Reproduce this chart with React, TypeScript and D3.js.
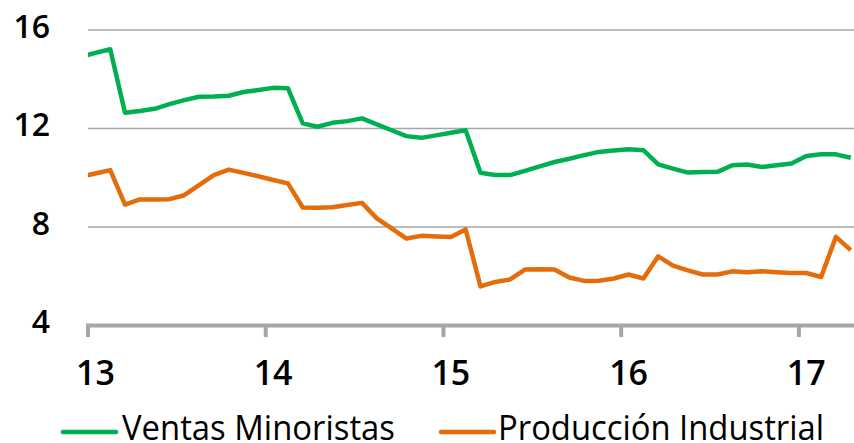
import React from 'react';
import { scaleLinear, line } from 'd3';

// monthly values, Dec 2012 .. Apr 2017 (month index -1 .. 51, 0 = Jan 2013)
const monthIndex = Array.from({ length: 53 }, (_, i) => i - 1);

const ventasMinoristas = [
  14.91, 15.07, 15.22, 12.64, 12.71, 12.8, 12.99, 13.15, 13.29, 13.3, 13.33, 13.48, 13.56,
  13.65, 13.63, 12.21, 12.07, 12.23, 12.3, 12.41, 12.17, 11.93, 11.69, 11.62, 11.72, 11.83,
  11.93, 10.2, 10.11, 10.11, 10.28, 10.46, 10.64, 10.77, 10.92, 11.05, 11.11, 11.16,
  11.12, 10.54, 10.37, 10.21, 10.23, 10.24, 10.51, 10.54, 10.44, 10.51, 10.58, 10.88,
  10.95, 10.95, 10.81,
];

const produccionIndustrial = [
  10.04, 10.17, 10.31, 8.91, 9.12, 9.12, 9.13, 9.29, 9.7, 10.11, 10.33, 10.2, 10.06,
  9.91, 9.77, 8.79, 8.78, 8.8, 8.89, 8.98, 8.35, 7.94, 7.53, 7.64, 7.61, 7.59,
  7.9, 5.59, 5.77, 5.87, 6.27, 6.28, 6.27, 5.95, 5.81, 5.82, 5.91, 6.07,
  5.91, 6.81, 6.43, 6.24, 6.07, 6.07, 6.2, 6.16, 6.2, 6.16, 6.13, 6.13,
  5.97, 7.6, 7.06,
];

const yTicks = [4, 8, 12, 16];
const yearLabels = ['13', '14', '15', '16', '17'];
const seriesNames = ['Ventas Minoristas', 'Producción Industrial'];
const colors = ['#00B050', '#E46C0A'];

const W = 854;
const H = 443;
const left = 88;
const right = 854;
const font = '"Open Sans", "DejaVu Sans", sans-serif';

export default function App() {
  const x = scaleLinear().domain([-0.5, 51.22]).range([left, right]);
  const y = scaleLinear().domain([4, 16]).range([325.5, 30]);

  const path = (vals: number[]) =>
    line<number>()
      .x((_, i) => x(monthIndex[i]))
      .y((d) => y(d))(vals) || '';

  const allSeries = [ventasMinoristas, produccionIndustrial];

  return (
    <svg
      width={W}
      height={H}
      style={{ position: 'fixed', left: 0, top: 0, background: '#fff' }}
      fontFamily={font}
    >
      <defs>
        <clipPath id="plot">
          <rect x={left} y={0} width={right - left} height={340} />
        </clipPath>
      </defs>

      {/* gridlines */}
      {yTicks.filter((t) => t > 4).map((t) => (
        <line key={t} x1={left} x2={right} y1={y(t)} y2={y(t)} stroke="#A6A6A6" strokeWidth={1.6} />
      ))}

      {/* y labels */}
      {yTicks.map((t) => (
        <text key={t} x={50} y={y(t) - 5} textAnchor="end" dominantBaseline="central" fontSize={32} fontWeight={600} fill="#000">
          {t}
        </text>
      ))}

      {/* x axis */}
      <line x1={left - 2} x2={right} y1={y(4)} y2={y(4)} stroke="#A6A6A6" strokeWidth={4} />
      {yearLabels.map((lab, k) => (
        <g key={lab}>
          <line x1={x(k * 12 - 0.5)} x2={x(k * 12 - 0.5)} y1={y(4)} y2={337} stroke="#A6A6A6" strokeWidth={4} />
          <text x={x(k * 12)} y={385} textAnchor="middle" fontSize={34} fontWeight={600} fill="#000">
            {lab}
          </text>
        </g>
      ))}

      {/* series */}
      <g clipPath="url(#plot)">
        {allSeries.map((s, k) => (
          <path key={k} d={path(s)} fill="none" stroke={colors[k]} strokeWidth={4.5} strokeLinejoin="round" />
        ))}
      </g>

      {/* legend */}
      {[
        { lx: 63, tx: 122, tw: 273 },
        { lx: 441, tx: 498, tw: 326 },
      ].map((p, k) => (
        <g key={k}>
          <line x1={p.lx} x2={p.lx + 53} y1={432} y2={432} stroke={colors[k]} strokeWidth={4.5} strokeLinecap="round" />
          <text x={p.tx} y={440} fontSize={35} fontWeight={500} fill="#000" textLength={p.tw} lengthAdjust="spacingAndGlyphs">
            {seriesNames[k]}
          </text>
        </g>
      ))}
    </svg>
  );
}
